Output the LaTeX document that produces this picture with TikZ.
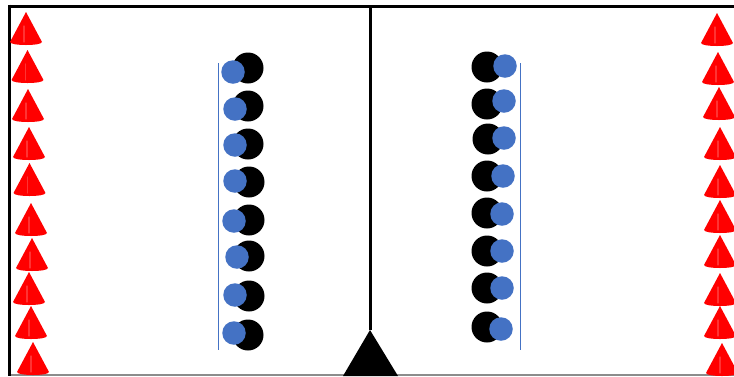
\documentclass[tikz,border=0pt]{standalone}
\usepackage{tikz}
\definecolor{pblue}{HTML}{4472C4}
\definecolor{conered}{HTML}{FF0000}
\tikzset{
  blackp/.style={circle, fill=black, minimum size=31pt, inner sep=0pt},
  bluep/.style={circle, fill=pblue, minimum size=23.5pt, inner sep=0pt},
  frame/.style={line width=3pt, black},
  guide/.style={pblue, line width=0.9pt},
  pics/cone/.style={code={
    \fill[conered] (0,0) -- (-16,30) .. controls (-16,34) and (16,34) .. (16,30) -- cycle;
    \draw[white, opacity=0.2, line width=1.2pt, line cap=round] (-2,14) -- (-2,30);
  }}
}
\begin{document}
\begin{tikzpicture}[x=1pt, y=-1pt]
\useasboundingbox (0,0) rectangle (734,376);
% frame
\draw[black!45, line width=2pt] (9,375) -- (734,375);
\draw[frame] (9,6) -- (734,6);
\draw[frame] (9,4.5) -- (9,376);
\coordinate (ctop) at (370,6);
\coordinate (ctip) at (370,330);
\draw[frame] (ctop) -- (ctip);
\fill[black] (ctip) -- (398,376) -- (343,376) -- cycle;
% left cones
\foreach \y/\x [count=\i] in {12/26,50/27.5,89/28,127/29,163/29.5,203/31,238/32,272/29,306/31,342/33}
  \pic (lc\i) at (\x,\y) {cone};
% right cones
\foreach \y/\x [count=\i] in {13/717,52/718,87/719,127/720,165/720,200/720,235/720,273/720,306/720,343/722}
  \pic (rc\i) at (\x,\y) {cone};
% left guide line
\coordinate (lg1) at (218,63);
\coordinate (lg2) at (218,350);
\draw[guide] (lg1) -- (lg2);
% right guide line
\coordinate (rg1) at (520,63);
\coordinate (rg2) at (520,350);
\draw[guide] (rg1) -- (rg2);
% left players
\foreach \by/\bx/\uy/\ux [count=\i] in {68/248/72/233,106/248/109/235,144/248/145/235,182/249/181/235,220/249/221/234,256/249/257/237,296/249/295/235,335/248/333/234}{
  \node[blackp] (lb\i) at (\bx,\by) {};
  \node[bluep] (lu\i) at (\ux,\uy) {};
}
% right players
\foreach \by/\bx/\uy/\ux [count=\i] in {67/487/66/505,104/487/101/504,139/488/138/504,176/487/176/503,213/487/214/502,251/487/251/502,288/487/288/502,327/487/329/501}{
  \node[blackp] (rb\i) at (\bx,\by) {};
  \node[bluep] (ru\i) at (\ux,\uy) {};
}
\end{tikzpicture}
\end{document}
